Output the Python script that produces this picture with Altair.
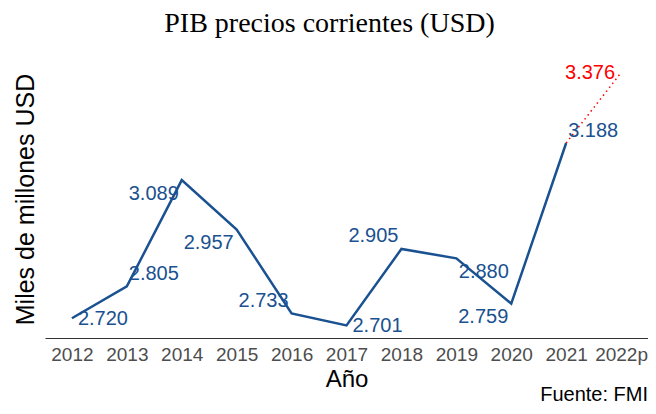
import altair as alt
import pandas as pd

# ---- data ----
years = ["2012", "2013", "2014", "2015", "2016", "2017", "2018", "2019", "2020", "2021", "2022p"]
values = [2720, 2805, 3089, 2957, 2733, 2701, 2905, 2880, 2759, 3188, 3376]
projected = [False, False, False, False, False, False, False, False, False, False, True]
# side on which each value label sits relative to its point
label_pos = ["r", "ur", "dl", "dl", "ul", "r", "ul", "dr", "dl", "ur", "l"]

blue = "#1a5190"
red = "#ff0000"

df = pd.DataFrame({
    "year": years,
    "value": values,
    "proj": projected,
    "pos": label_pos,
    "idx": list(range(len(years))),
})
last_real = max(i for i, p in enumerate(projected) if not p)

offsets = {
    "r": (31, 1),
    "l": (-31, 0),
    "ur": (27, -12.5),
    "ul": (-28, -12.5),
    "dr": (27.5, 14),
    "dl": (-28, 13.5),
}

FONT = "Liberation Sans"
lo = min(values) - 0.05 * (max(values) - min(values))
hi = max(values) + 0.05 * (max(values) - min(values))

x_axis = alt.Axis(
    title="Año", labelAngle=0, labelFontSize=19, labelColor="#4d4d4d", labelFont=FONT,
    ticks=False, tickSize=0, labelPadding=7, domainColor="#333333", domainWidth=1.2,
    titleFontSize=24, titleFont=FONT, titleFontWeight="normal", titleColor="black",
    titlePadding=3, grid=False,
)
y_axis = alt.Axis(
    title="Miles de millones USD", labels=False, ticks=False, tickSize=0, domain=False,
    grid=False, titleFontSize=25, titleFont=FONT, titleFontWeight="normal",
    titleColor="black", titlePadding=7,
)

x_enc = alt.X("year:O", sort=years, scale=alt.Scale(type="point", padding=0.49), axis=x_axis)
y_enc = alt.Y("value:Q", scale=alt.Scale(domain=[lo, hi], nice=False, zero=False), axis=y_axis)
x_plain = alt.X("year:O", sort=years)
y_plain = alt.Y("value:Q")

base = alt.Chart(df)

solid = base.transform_filter(f"datum.idx <= {last_real}").mark_line(
    color=blue, strokeWidth=2.5
).encode(x=x_enc, y=y_enc)

dotted = base.transform_filter(f"datum.idx >= {last_real}").mark_line(
    color=red, strokeWidth=1.5, strokeDash=[1.5, 3.5]
).encode(x=x_plain, y=y_plain)

layers = [solid, dotted]
for pos, (dx, dy) in offsets.items():
    layers.append(
        base.transform_filter(f"datum.pos == '{pos}'")
        .transform_calculate(lbl="replace(format(datum.value, ',.0f'), ',', '.')")
        .mark_text(dx=dx, dy=dy, fontSize=20, font=FONT, baseline="middle", align="center")
        .encode(
            x=x_plain,
            y=y_plain,
            text="lbl:N",
            color=alt.condition(alt.datum.proj == True, alt.value(red), alt.value(blue)),
        )
    )

caption = alt.Chart(pd.DataFrame({"t": ["Fuente: FMI"]})).mark_text(
    align="right", baseline="alphabetic", fontSize=20, font=FONT, color="black"
).encode(x=alt.value(603), y=alt.value(341), text="t:N")
layers.append(caption)

chart = alt.layer(*layers).properties(
    width=603,
    height=278,
    background="white",
    title=alt.TitleParams(
        "PIB precios corrientes (USD)", font="Liberation Serif", fontSize=28,
        fontWeight="normal", color="black", anchor="middle", frame="group",
        dx=-17, offset=0, baseline="alphabetic",
    ),
    padding={"left": 37, "top": 52, "right": 0, "bottom": 68},
    autosize=alt.AutoSizeParams(type="none"),
).configure_view(stroke=None)

chart.save("out.html", embed_options={"renderer": "svg", "actions": False})
